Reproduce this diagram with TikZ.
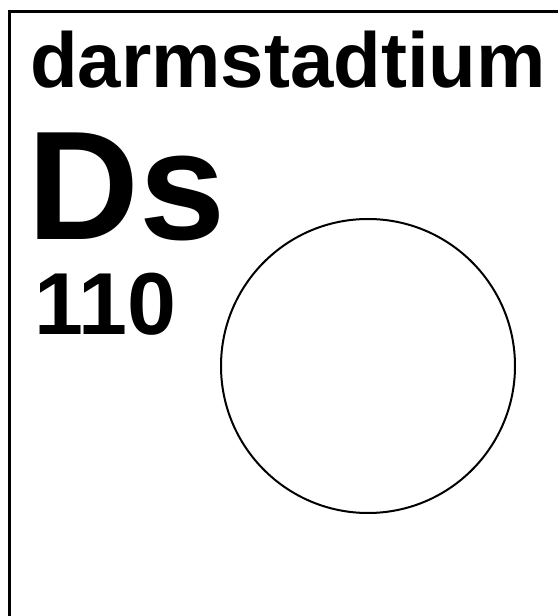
\documentclass[tikz,border=0pt]{standalone}
\usepackage{fontspec}
\setmainfont{Liberation Sans}
\usetikzlibrary{positioning}
\tikzset{
  el/name/.style={
    anchor=base west,
    inner sep=0pt,
    font=\bfseries\fontsize{78}{78}\selectfont
  },
  el/symbol/.style={
    anchor=base west,
    inner sep=0pt,
    font=\bfseries\fontsize{155}{155}\selectfont
  },
  el/number/.style={
    anchor=base west,
    inner sep=0pt,
    font=\bfseries\fontsize{88}{88}\selectfont
  },
  el/shell/.style={circle, draw=black, line width=2pt, minimum size=294pt, inner sep=0pt},
  el/frame/.style={draw=black, line width=3pt}
}

\begin{document}
\begin{tikzpicture}[x=1pt,y=1pt]
  \useasboundingbox (0,0) rectangle (558,616);
  \draw[el/frame] (9,0) -- (9,604.5) -- (558,604.5);
  \node[el/name] (name) at (30,528) {darmstadtium};
  \node[el/symbol] (symbol) at (27,376) {Ds};
  \node[el/number] (number) at (34,281) {110};
  \node[el/shell] (shell) at (368,250) {};
\end{tikzpicture}
\end{document}
